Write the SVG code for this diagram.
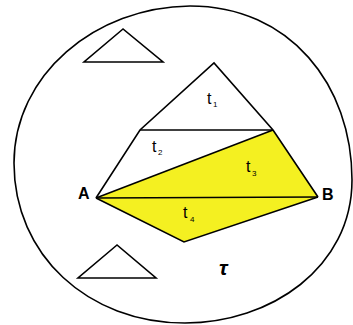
<svg xmlns="http://www.w3.org/2000/svg" width="353" height="325" viewBox="0 0 353 325">
<style>
.ln{fill:none;stroke:#000;stroke-width:1.6;stroke-linejoin:miter}
.tri{fill:#fff;stroke:#000;stroke-width:1.6}
.yel{fill:#f4f021;stroke:none}
.t{font-family:"Liberation Sans",Arial,sans-serif;font-size:16px;fill:#000}
.s{font-family:"Liberation Sans",Arial,sans-serif;font-size:8px;fill:#000}
.lab{font-family:"Liberation Sans",Arial,sans-serif;font-size:16px;font-weight:bold;fill:#000}
</style>
<rect width="353" height="325" fill="#fff"/>
<g id="region">
<path class="ln" d="M14,163 C14,75 95,7 190,6 C290,6 352,85 352,180 C352,268 270,323 185,323 C88,323 14,255 14,163 Z"/>
<text x="219" y="275" class="lab" style="font-size:21px;font-style:italic">τ</text>
</g>
<g id="tri-top"><polygon class="tri" points="123,29 84,62 163,62"/></g>
<g id="tri-bottom"><polygon class="tri" points="117,245 78,278 156,278"/></g>
<g id="fill">
<polygon class="yel" points="96,198 273,130 318,197 184,242"/>
</g>
<g id="connectors">
<polyline class="ln" points="96,198 140,130 214,63 273,130 318,197"/>
<line class="ln" x1="140" y1="130" x2="273" y2="130"/>
<line class="ln" x1="96" y1="198" x2="273" y2="130"/>
<line class="ln" x1="96" y1="198" x2="318" y2="197"/>
<polyline class="ln" points="96,198 184,242 318,197"/>
</g>
<g id="labels">
<text x="207" y="104" class="t">t</text><text x="213" y="107" class="s">1</text>
<text x="152" y="152" class="t">t</text><text x="158" y="155" class="s">2</text>
<text x="246" y="172" class="t">t</text><text x="252" y="176" class="s">3</text>
<text x="183" y="218" class="t">t</text><text x="190" y="222" class="s">4</text>
</g>
<g id="A"><text x="78" y="199" class="lab">A</text></g>
<g id="B"><text x="322" y="200" class="lab">B</text></g>
</svg>
